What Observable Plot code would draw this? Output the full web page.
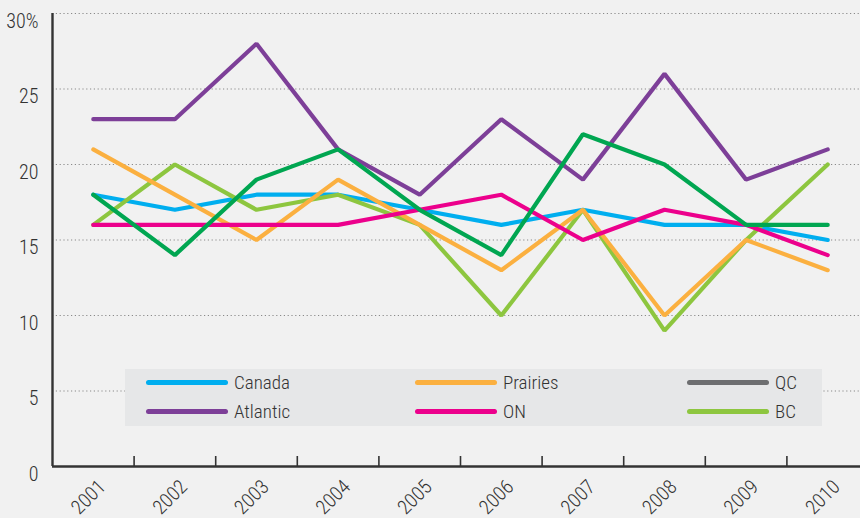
<!DOCTYPE html>
<html>
<head>
<meta charset="utf-8">
<script src="https://cdn.jsdelivr.net/npm/d3@7"></script>
<script src="https://cdn.jsdelivr.net/npm/@observablehq/plot@0.6"></script>
<style>
  html, body { margin: 0; padding: 0; background: #f1f1f1; }
  #wrap { position: relative; width: 860px; height: 518px; overflow: hidden; }
  #legend {
    position: absolute; left: 125px; top: 369px; width: 697px; height: 57px;
    background: #e6e7e8;
    font-family: "Roboto Condensed", "Liberation Sans Narrow", Roboto, sans-serif;
    font-weight: 300; font-size: 19px; color: #333;
  }
  .item { position: absolute; display: flex; align-items: center; height: 22px; }
  .sw { width: 82px; height: 5px; border-radius: 3px; margin-right: 6px; }
  #chart svg text { font-weight: 300; }
</style>
</head>
<body>
<div id="wrap"><div id="chart"></div><div id="legend"></div></div>
<script>
// Share of each region, per year (%)
const years    = [2001, 2002, 2003, 2004, 2005, 2006, 2007, 2008, 2009, 2010];
const canada   = [18, 17, 18, 18, 17, 16, 17, 16, 16, 15];
const prairies = [21, 18, 15, 19, 16, 13, 17, 10, 15, 13];
const qc       = [18, 14, 19, 21, 17, 14, 22, 20, 16, 16];
const atlantic = [23, 23, 28, 21, 18, 23, 19, 26, 19, 21];
const on       = [16, 16, 16, 16, 17, 18, 15, 17, 16, 14];
const bc       = [16, 20, 17, 18, 16, 10, 17,  9, 15, 20];

const yTicks = [0, 5, 10, 15, 20, 25, 30];

// Drawing order (bottom to top) and colours
const series = [
  {name: "Canada",   values: canada,   color: "#00aeef"},
  {name: "BC",       values: bc,       color: "#8dc63f"},
  {name: "Prairies", values: prairies, color: "#fbb040"},
  {name: "Atlantic", values: atlantic, color: "#7d3f98"},
  {name: "ON",       values: on,       color: "#ec008c"},
  {name: "QC",       values: qc,       color: "#00a651"}
];

// Legend layout: rows of three, QC keyed in grey
const legendRows = [
  [{name: "Canada", color: "#00aeef"}, {name: "Prairies", color: "#fbb040"}, {name: "QC", color: "#6d6e70"}],
  [{name: "Atlantic", color: "#7d3f98"}, {name: "ON", color: "#ec008c"}, {name: "BC", color: "#8dc63f"}]
];

const rows = series.flatMap(s => s.values.map((v, i) => ({region: s.name, year: years[i], value: v})));
const halfYears = years.slice(0, -1).map(y => y + 0.5);
const font = `"Roboto Condensed", "Liberation Sans Narrow", Roboto, sans-serif`;

const chart = Plot.plot({
  width: 860,
  height: 518,
  marginLeft: 52,
  marginRight: 0,
  marginTop: 13,
  marginBottom: 52,
  style: {background: "#f1f1f1", fontFamily: font, color: "#333", overflow: "hidden"},
  x: {type: "linear", domain: [years[0] - 0.5, years[years.length - 1] + 0.5], range: [52, 868]},
  y: {domain: [0, 30]},
  color: {domain: series.map(s => s.name), range: series.map(s => s.color)},
  marks: [
    Plot.ruleY(yTicks.filter(d => d > 0), {stroke: "#8a8a8a", strokeWidth: 1.1, strokeDasharray: "1.2 2.6"}),
    Plot.axisY({ticks: yTicks, tickSize: 0, tickPadding: 14, dy: 8, fontSize: 20, label: null,
      tickFormat: d => d === 30 ? "30%" : String(d)}),
    Plot.axisX({ticks: halfYears, tickSize: -10, tickFormat: () => "", label: null, stroke: "#333", strokeWidth: 1.6}),
    Plot.text(years, {x: d => d, y: 0, text: d => String(d), rotate: -45, textAnchor: "end",
      lineAnchor: "middle", dx: 9, dy: 17, fontSize: 20, fill: "#333"}),
    Plot.line(rows, {x: "year", y: "value", z: "region", stroke: "region", strokeWidth: 4.2,
      strokeLinecap: "round", strokeLinejoin: "miter"}),
    Plot.ruleX([years[0] - 0.5], {y1: 0, y2: 30, stroke: "#333", strokeWidth: 2.4}),
    Plot.ruleY([0], {stroke: "#333", strokeWidth: 2.6})
  ]
});
document.getElementById("chart").appendChild(chart);

// Legend
const legend = d3.select("#legend");
const colLeft = [21, 290, 562];
const rowTop = [2, 31];
legendRows.forEach((row, r) => row.forEach((it, c) => {
  const item = legend.append("div").attr("class", "item")
    .style("left", colLeft[c] + "px").style("top", rowTop[r] + "px");
  item.append("div").attr("class", "sw").style("background", it.color);
  item.append("span").text(it.name);
}));
</script>
</body>
</html>
